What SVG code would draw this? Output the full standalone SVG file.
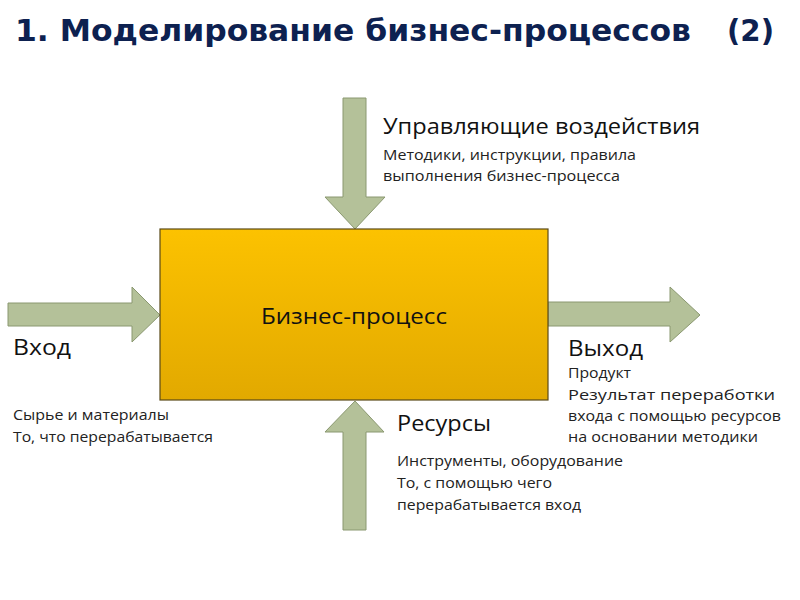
<svg xmlns="http://www.w3.org/2000/svg" width="800" height="600" viewBox="0 0 800 600">
<defs>
<linearGradient id="boxg" x1="0" y1="0" x2="0" y2="1">
<stop offset="0" stop-color="#fcc200"/>
<stop offset="1" stop-color="#e2a900"/>
</linearGradient>
</defs>
<style>
.arrow{fill:#b4c199;stroke:#8a9870;stroke-width:1}
.t{font-family:"Open Sans","Noto Sans","DejaVu Sans",sans-serif;fill:#111}
.h{font-size:21px}
.s{font-size:14.5px;fill:#222}
.title{font-family:"DejaVu Sans","Noto Sans",sans-serif;font-weight:bold;font-size:30px;fill:#0d2150}
</style>
<rect width="800" height="600" fill="#fff"/>
<g id="title">
<text class="title" x="15" y="41" textLength="676" lengthAdjust="spacingAndGlyphs">1. Моделирование бизнес-процессов</text>
<text class="title" x="727" y="41" textLength="47" lengthAdjust="spacingAndGlyphs">(2)</text>
</g>
<g id="connectors">
<polygon class="arrow" points="343,98 366,98 366,197 385,197 355,229 325,197 343,197"/>
<polygon class="arrow" points="8,303 132,303 132,287 160,315 132,342 132,326 8,326"/>
<polygon class="arrow" points="548,302 670,302 670,287 700,315 670,342 670,326 548,326"/>
<polygon class="arrow" points="355,401 384,432 366,432 366,530 343,530 343,432 325,432"/>
</g>
<g id="process">
<rect x="160" y="229" width="388" height="171" fill="url(#boxg)" stroke="#5a4a18" stroke-width="1.2"/>
<text class="t h" x="354" y="324" text-anchor="middle" textLength="186" lengthAdjust="spacingAndGlyphs">Бизнес-процесс</text>
</g>
<g id="control">
<text class="t h" x="383" y="134" textLength="317" lengthAdjust="spacingAndGlyphs">Управляющие воздействия</text>
<text class="t s" x="383" y="160" textLength="253" lengthAdjust="spacingAndGlyphs">Методики, инструкции, правила</text>
<text class="t s" x="383" y="181" textLength="237" lengthAdjust="spacingAndGlyphs">выполнения бизнес-процесса</text>
</g>
<g id="input">
<text class="t h" x="13" y="355" textLength="58" lengthAdjust="spacingAndGlyphs">Вход</text>
<text class="t s" x="13" y="420" textLength="156" lengthAdjust="spacingAndGlyphs">Сырье и материалы</text>
<text class="t s" x="13" y="442" textLength="200" lengthAdjust="spacingAndGlyphs">То, что перерабатывается</text>
</g>
<g id="output">
<text class="t h" x="568" y="356" textLength="75" lengthAdjust="spacingAndGlyphs">Выход</text>
<text class="t s" x="568" y="378" textLength="63" lengthAdjust="spacingAndGlyphs">Продукт</text>
<text class="t s" x="568" y="400" textLength="207" lengthAdjust="spacingAndGlyphs">Результат переработки</text>
<text class="t s" x="568" y="421" textLength="213" lengthAdjust="spacingAndGlyphs">входа с помощью ресурсов</text>
<text class="t s" x="568" y="442" textLength="190" lengthAdjust="spacingAndGlyphs">на основании методики</text>
</g>
<g id="resources">
<text class="t h" x="397" y="431" textLength="94" lengthAdjust="spacingAndGlyphs">Ресурсы</text>
<text class="t s" x="397" y="466" textLength="226" lengthAdjust="spacingAndGlyphs">Инструменты, оборудование</text>
<text class="t s" x="397" y="488" textLength="155" lengthAdjust="spacingAndGlyphs">То, с помощью чего</text>
<text class="t s" x="397" y="510" textLength="184" lengthAdjust="spacingAndGlyphs">перерабатывается вход</text>
</g>
</svg>
